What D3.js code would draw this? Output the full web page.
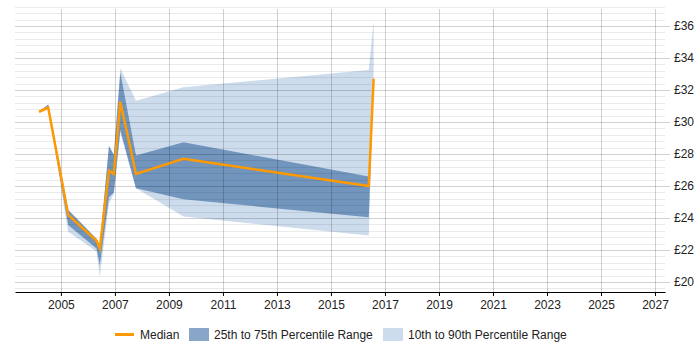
<!DOCTYPE html>
<html lang="en">
<head>
<meta charset="utf-8">
<title>Median daily rate with percentile ranges</title>
<style>
body { margin: 0; background: #fff; }
svg text { font-family: "Liberation Sans", Arial, sans-serif; font-size: 12px; fill: #222; }
</style>
</head>
<body>
<svg width="700" height="350"></svg>

<script src="https://cdn.jsdelivr.net/npm/d3@7/dist/d3.min.js"></script>
<script>

// fractional years of each sample
const years  = [2004.19, 2004.53, 2005.27, 2006.32, 2006.44, 2006.78, 2006.96, 2007.2, 2007.78, 2009.54, 2016.4, 2016.58];
const median = [30.64, 30.9, 24.19, 22.58, 22.1, 26.96, 26.75, 31.27, 26.75, 27.7, 26.0, 32.7];
const p25    = [30.64, 30.8, 23.56, 22.1, 21.06, 25.3, 25.6, 29.5, 25.86, 25.17, 24.04, 32.7];
const p75    = [30.64, 31.1, 24.5, 22.7, 22.3, 28.5, 27.94, 33.1, 27.9, 28.73, 26.6, 32.7];
const p10    = [30.64, 30.8, 23.14, 21.9, 20.3, 24.9, 25.5, 29.3, 25.86, 24.1, 22.9, 32.6];
const p90    = [30.64, 31.1, 24.5, 22.7, 22.3, 28.5, 28.0, 33.35, 31.33, 32.17, 33.25, 36.3];

const xTicks = d3.range(2005, 2028, 2);
const yTicks = d3.range(20, 37, 2);
const legendItems = ['Median', '25th to 75th Percentile Range', '10th to 90th Percentile Range'];

const svg = d3.select('svg'),
    plotLeft = 15, plotRight = 665, plotTop = 6, plotBottom = 292;

let x = d3.scaleLinear().domain([2003.3, 2027.37]).range([plotLeft, plotRight]);
let y = d3.scaleLinear().domain([19.375, 37.25]).range([plotBottom, plotTop]);

let rows = years.map((yr, i) => ({
  year: yr, med: median[i], q25: p25[i], q75: p75[i], q10: p10[i], q90: p90[i]
}));

// bands
svg.append('path')
  .datum(rows)
  .attr('fill', '#ccdcec')
  .attr('d', d3.area().x(d => x(d.year)).y0(d => y(d.q10)).y1(d => y(d.q90)));

svg.append('path')
  .datum(rows)
  .attr('fill', '#7195bd')
  .attr('d', d3.area().x(d => x(d.year)).y0(d => y(d.q25)).y1(d => y(d.q75)));

// grid drawn over the bands so it shows through
let minor = d3.range(19.6, 37.3, 0.4).filter(v => Math.abs(v / 2 - Math.round(v / 2)) > 0.01);
svg.append('g')
  .selectAll('line')
  .data(minor)
  .enter().append('line')
    .attr('x1', plotLeft).attr('x2', plotRight)
    .attr('y1', d => Math.round(y(d)) + 0.5).attr('y2', d => Math.round(y(d)) + 0.5)
    .attr('stroke', 'rgba(0,0,0,0.08)');

svg.append('g')
  .selectAll('line')
  .data(yTicks)
  .enter().append('line')
    .attr('x1', plotLeft).attr('x2', plotRight + 5)
    .attr('y1', d => Math.round(y(d)) + 0.5).attr('y2', d => Math.round(y(d)) + 0.5)
    .attr('stroke', 'rgba(0,0,0,0.18)');

svg.append('g')
  .selectAll('line')
  .data(xTicks)
  .enter().append('line')
    .attr('x1', d => Math.round(x(d)) + 0.5).attr('x2', d => Math.round(x(d)) + 0.5)
    .attr('y1', plotTop + 3).attr('y2', plotBottom)
    .attr('stroke', 'rgba(0,0,0,0.18)');

// median
svg.append('path')
  .datum(rows)
  .attr('fill', 'none')
  .attr('stroke', '#ff9900')
  .attr('stroke-width', 2.5)
  .attr('d', d3.line().x(d => x(d.year)).y(d => y(d.med)));

// x axis
let xAxis = svg.append('g')
  .attr('transform', 'translate(0,' + plotBottom + ')')
  .call(d3.axisBottom(x).tickValues(xTicks).tickFormat(d3.format('d')).tickSize(4).tickSizeOuter(0));
xAxis.attr('font-family', null).attr('font-size', null);
xAxis.select('.domain').attr('stroke', '#000');
xAxis.selectAll('.tick line').attr('stroke', '#000');
xAxis.selectAll('text').attr('dy', '0.85em').attr('fill', null);

// y labels on the right
svg.append('g')
  .selectAll('text')
  .data(yTicks)
  .enter().append('text')
    .attr('x', plotRight + 9)
    .attr('y', d => y(d))
    .attr('dy', '0.35em')
    .text(d => '£' + d);

// legend
let legend = svg.append('g');
const lx = [115, 189, 383];

legend.append('line')
  .attr('x1', lx[0]).attr('x2', lx[0] + 19)
  .attr('y1', 334.5).attr('y2', 334.5)
  .attr('stroke', '#ff9900').attr('stroke-width', 3);

legend.append('rect')
  .attr('x', lx[1]).attr('y', 328).attr('width', 20).attr('height', 13)
  .attr('fill', '#87a6c8');

legend.append('rect')
  .attr('x', lx[2]).attr('y', 328).attr('width', 20).attr('height', 13)
  .attr('fill', '#ccdcec');

legend.selectAll('text')
  .data(legendItems)
  .enter().append('text')
    .attr('x', (d, i) => lx[i] + 25)
    .attr('y', 334.5)
    .attr('dy', '0.35em')
    .text(d => d);

</script>
</body>
</html>
